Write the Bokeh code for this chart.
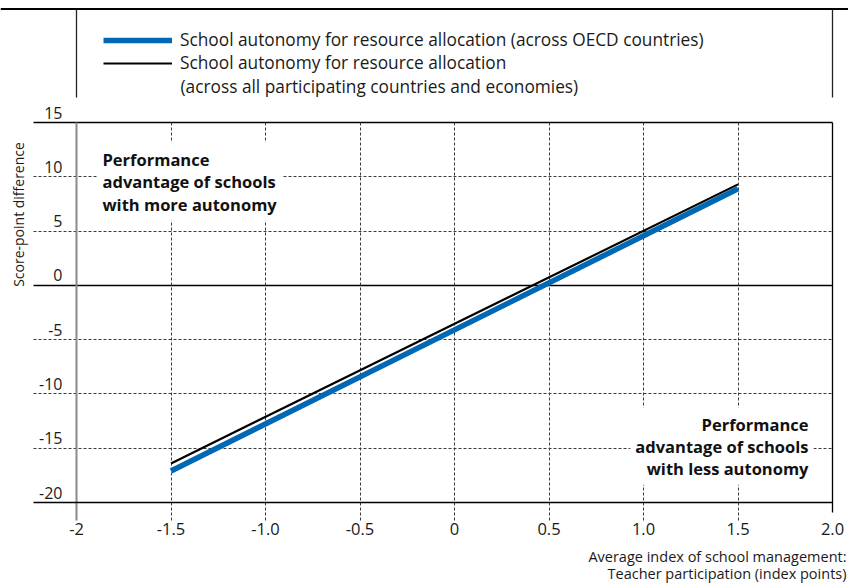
import math
from bokeh.plotting import figure
from bokeh.models import (FixedTicker, Span, Label, Legend, LegendItem, Grid,
                          ColumnDataSource)
from bokeh.core.properties import value
from bokeh.embed import file_html
from bokeh.resources import INLINE

# ---------------- data ----------------
x_ends = [-1.5, 1.5]
oecd_values = [-17.1, 8.9]
all_values = [-16.4, 9.3]

x_ticks = [-2, -1.5, -1.0, -0.5, 0, 0.5, 1.0, 1.5, 2.0]
x_tick_labels = ["-2", "-1.5", "-1.0", "-0.5", "0", "0.5", "1.0", "1.5", "2.0"]
x_inner_ticks = [-1.5, -1.0, -0.5, 0, 0.5, 1.0, 1.5]
y_ticks = [15, 10, 5, 0, -5, -10, -15, -20]
y_tick_labels = ["15", "10", "5", "0", "-5", "-10", "-15", "-20"]
y_dashed_ticks = [10, 5, -5, -10, -15]
y_solid_ticks = [15, 0]
x_min, x_max = -2, 2.0
y_min, y_max = -20, 15

legend_labels = ["School autonomy for resource allocation (across OECD countries)",
                 "School autonomy for resource allocation"]
legend_continuation = "(across all participating countries and economies)"
y_title = "Score-point difference"
x_title = ["Average index of school management:",
           "Teacher participation (index points)"]
note_more = "Performance\nadvantage of schools\nwith more autonomy"
note_less = "Performance\nadvantage of schools\nwith less autonomy"

FONT = "Open Sans"
BLUE = "#0068b5"
TXT = "#1a1a1a"

# ---------------- geometry helpers (canvas pixel -> data) ----------------
PX0, PXU = 76.0, 189.0          # canvas x of -2, pixels per unit
PY0, PYU = 122.0, 380.0 / 35.0  # canvas y of 15, pixels per unit


def X(px):
    return x_min + (px - PX0) / PXU


def Y(py):
    return y_max - (py - PY0) / PYU


W, H = 848, 585
p = figure(width=W, height=H, x_range=(X(0), X(W)), y_range=(Y(H), Y(0)),
           output_backend="svg", toolbar_location=None, y_axis_location=None,
           min_border=0, outline_line_color=None,
           background_fill_color="white", border_fill_color="white")
p.xgrid.visible = False
p.ygrid.visible = False

LEFT = X(33)


def grid(dim, ticks, color, width, dash, lo, hi):
    g = Grid(dimension=dim, ticker=FixedTicker(ticks=ticks), grid_line_color=color,
             grid_line_width=width, grid_line_dash=dash)
    g.cross_bounds = (lo, hi)
    p.add_layout(g, "center")


# horizontal gridlines
grid(1, y_dashed_ticks, "#3a3a3a", 1, "3 2", LEFT, x_max)
grid(1, y_solid_ticks, "black", 1.3, "solid", LEFT, x_max)
# vertical gridlines (continuing below the axis as ticks)
grid(0, x_inner_ticks, "#3a3a3a", 1, "3 2", Y(520), y_max)
grid(0, [x_min], "#8a8a8a", 2, "solid", Y(520), y_max)
grid(0, [x_max], "black", 1.3, "solid", Y(512), y_max)
# legend panel frame
grid(0, [x_min, x_max], "#222222", 1.3, "solid", Y(97), Y(8.5))
p.add_layout(Span(location=Y(8.5), dimension="width", line_color="black",
                  line_width=2))

# x axis fixed at the bottom line of the chart
ax = p.xaxis[0]
ax.fixed_location = y_min
ax.bounds = (LEFT, x_max)
ax.ticker = FixedTicker(ticks=x_ticks)
ax.major_label_overrides = {t: l for t, l in zip(x_ticks, x_tick_labels)}
ax.axis_line_color = "black"
ax.axis_line_width = 1.3
ax.major_tick_in = 0
ax.major_tick_out = 0
ax.minor_tick_line_color = None
ax.major_label_standoff = 20
ax.major_label_text_font = FONT
ax.major_label_text_font_size = "16.5px"
ax.major_label_text_color = TXT

# y tick labels above their lines
ysrc = ColumnDataSource(dict(y=y_ticks, label=y_tick_labels))
p.text(x=X(62), y="y", text="label", source=ysrc, text_align="right",
       text_baseline="middle", y_offset=-10, text_font=value(FONT),
       text_font_size="16px", text_color=TXT)

# data lines
r_blue = p.line(x_ends, oecd_values, line_color=BLUE, line_width=5.5)
r_black = p.line(x_ends, all_values, line_color="black", line_width=2.2)

# legend
legend = Legend(items=[LegendItem(label=legend_labels[0], renderers=[r_blue]),
                       LegendItem(label=legend_labels[1], renderers=[r_black])],
                location=(103, H - 74), padding=0, margin=0, spacing=0,
                glyph_width=69, glyph_height=22, label_height=22,
                label_standoff=8, label_text_font=FONT,
                label_text_font_size="17.3px", label_text_color=TXT,
                border_line_color=None, background_fill_alpha=0)
p.add_layout(legend)
p.add_layout(Label(x=X(180), y=Y(86), text=legend_continuation,
                   text_baseline="middle", text_font=FONT,
                   text_font_size="17.3px", text_color=TXT))

# axis titles
p.add_layout(Label(x=X(18), y=Y(214), text=y_title, angle=math.pi / 2,
                   text_align="center", text_baseline="middle",
                   text_font=FONT, text_font_size="14px", text_color=TXT))
for i, t in enumerate(x_title):
    p.add_layout(Label(x=X(846), y=Y(556 + 17 * i), text=t, text_align="right",
                       text_baseline="middle", text_font=FONT,
                       text_font_size="14.5px", text_color=TXT))

# notes
p.add_layout(Label(x=X(97), y=Y(142), text=note_more, text_align="left",
                   text_baseline="top", text_font=FONT, text_font_size="16.5px",
                   text_font_style="bold", text_color="#111111",
                   text_line_height=0.98, background_fill_color="white",
                   padding=5))
p.add_layout(Label(x=X(813), y=Y(407), text=note_less, text_align="right",
                   text_baseline="top", text_font=FONT, text_font_size="16.5px",
                   text_font_style="bold", text_color="#111111",
                   text_line_height=0.96, background_fill_color="white",
                   padding=5))

open("out.html", "w").write(file_html(p, INLINE))
